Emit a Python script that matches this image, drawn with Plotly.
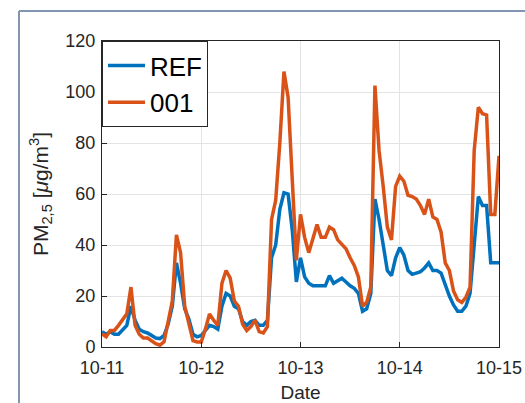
import plotly.graph_objects as go
import pandas as pd

# Hourly data, 2020-10-11 00:00 to 2020-10-15 00:00
start = "2020-10-11 00:00"
ref_values = [6, 5, 6, 5, 5, 7, 8.5, 16, 10.5, 7,
              6, 5.5, 4.5, 3.5, 3.3, 4.5, 9, 16, 33, 25,
              15, 11, 5, 4, 4.5, 6.5, 8.5, 8, 7, 16,
              21, 20, 16, 15, 10, 8.5, 10, 10.5, 8.5, 8.5,
              10.5, 35, 40, 54, 60.5, 60, 46, 25.5, 35, 27.5,
              25, 24, 24, 24, 24, 28, 25, 26, 27, 25.5,
              24, 23, 21, 14, 15, 21, 58, 50, 39, 30,
              28, 35, 39, 36, 30, 28.5, 29, 29.5, 31, 33,
              30, 30, 29, 24, 20, 16.5, 14, 14, 16, 21,
              42, 59, 55.5, 55.5, 33, 33, 33]
s001_values = [5.2, 4, 6.5, 6.5, 8.5, 11, 13, 23.5, 8.5, 5,
               3.5, 3.5, 2.5, 1.3, 0.7, 2, 10, 18, 44, 37,
               16, 9, 2.5, 2, 2, 7, 13, 10.5, 8.5, 25,
               30, 27, 18, 16, 9, 6.5, 8, 10.5, 6, 5.5,
               8, 50, 57.5, 80, 108, 98, 67, 34, 52, 43,
               37, 42, 48, 43, 43, 47, 46, 42, 40, 38.5,
               35, 32, 27.5, 16, 17.5, 23.5, 102.5, 77, 63, 47,
               42, 63, 67, 65, 59.5, 59, 58, 55.5, 52, 58,
               51, 50, 45, 33, 30, 22, 18.5, 17.5, 19.5, 23.5,
               77, 94, 91.5, 91, 52, 52, 75]
series_names = ["REF", "001"]
x_tick_labels = ["10-11", "10-12", "10-13", "10-14", "10-15"]
y_ticks = [0, 20, 40, 60, 80, 100, 120]

times = pd.date_range(start, periods=len(ref_values), freq="h")
tick_vals = pd.date_range("2020-10-11", periods=5, freq="D")

W, H = 525, 403
L, R, T, B = 102, 26, 41, 56
pw, ph = W - L - R, H - T - B

fig = go.Figure()
fig.add_trace(go.Scatter(x=times, y=ref_values, mode="lines", name=series_names[0],
                         line=dict(color="#0072BD", width=3.5)))
fig.add_trace(go.Scatter(x=times, y=s001_values, mode="lines", name=series_names[1],
                         line=dict(color="#D95319", width=3.5)))

axis_common = dict(showline=True, linecolor="#262626", linewidth=1, mirror=True,
                   ticks="inside", ticklen=5, tickcolor="#262626",
                   showgrid=True, gridcolor="#e3e3e3", gridwidth=1,
                   zeroline=False, tickfont=dict(size=18, color="#262626"))

fig.update_layout(
    width=W, height=H,
    margin=dict(l=L, r=R, t=T, b=B, autoexpand=False),
    paper_bgcolor="white", plot_bgcolor="white",
    font=dict(family="Liberation Sans, Arial, sans-serif", color="#262626"),
    xaxis=dict(range=[tick_vals[0], tick_vals[-1]], tickvals=tick_vals,
               ticktext=x_tick_labels, ticklabelstandoff=4,
               title=dict(text="Date", font=dict(size=19, color="#262626"), standoff=12),
               **axis_common),
    yaxis=dict(range=[0, 120], tickvals=y_ticks, ticklabelstandoff=2,
               title=dict(text="PM<sub>2,5</sub> [<i>μ</i>g/m<sup>3</sup>]",
                          font=dict(size=21, color="#262626"), standoff=11),
               **axis_common),
    legend=dict(x=0, y=1, xanchor="left", yanchor="top",
                bgcolor="white", bordercolor="#262626", borderwidth=1,
                font=dict(size=26, color="black"), tracegroupgap=0,
                itemwidth=37),
    showlegend=True,
)

# outer panel frame (left and top edges)
fx = (19 - L) / pw
fy = (H - B - 11) / ph
frame_color = "#8196b0"
fig.add_shape(type="line", xref="paper", yref="paper", x0=fx, x1=fx, y0=fy, y1=-0.5,
              line=dict(color=frame_color, width=2), layer="above")
fig.add_shape(type="line", xref="paper", yref="paper", x0=fx, x1=1.2, y0=fy, y1=fy,
              line=dict(color=frame_color, width=2), layer="above")

fig.write_html("out.html", config={"displayModeBar": False},
               post_script="document.body.style.margin='0px';")
